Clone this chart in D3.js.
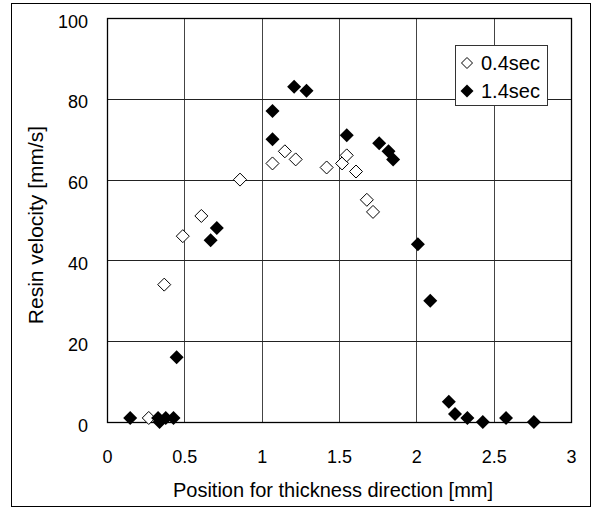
<!DOCTYPE html>
<html lang="en">
<head>
<meta charset="UTF-8">
<title>Resin velocity</title>
<style>
body { margin: 0; background: #fff; }
text { font-family: "Liberation Sans", Arial, sans-serif; font-size: 18px; fill: #000; }
</style>
</head>
<body>
<svg id="main" width="596" height="509"></svg>
<script src="https://cdn.jsdelivr.net/npm/d3@7/dist/d3.min.js"></script>
<script>
// 0.4 sec (open diamonds)
var x04 = [0.27, 0.37, 0.49, 0.61, 0.86, 1.07, 1.15, 1.22, 1.42, 1.52, 1.55, 1.61, 1.68, 1.72];
var y04 = [1, 34, 46, 51, 60, 64, 67, 65, 63, 64, 66, 62, 55, 52];
// 1.4 sec (filled diamonds)
var x14 = [0.15, 0.33, 0.34, 0.38, 0.43, 0.45, 0.67, 0.71, 1.07, 1.07, 1.21, 1.29, 1.55, 1.76, 1.82, 1.85, 2.01, 2.09, 2.21, 2.25, 2.33, 2.43, 2.58, 2.76];
var y14 = [1, 1, 0, 1, 1, 16, 45, 48, 77, 70, 83, 82, 71, 69, 67, 65, 44, 30, 5, 2, 1, 0, 1, 0];
var xTicks = [0, 0.5, 1, 1.5, 2, 2.5, 3];
var yTicks = [0, 20, 40, 60, 80, 100];
var seriesNames = ["0.4sec", "1.4sec"];

var svg = d3.select("#main");
var pL = 107, pR = 571, pT = 18, pB = 422;

var x = d3.scaleLinear().domain([0, 3]).range([pL, pR]);
var y = d3.scaleLinear().domain([0, 100]).range([pB, pT]);

// outer frame
svg.append("rect").attr("x", 11.5).attr("y", 3.5).attr("width", 579).attr("height", 503)
    .attr("fill", "none").attr("stroke", "#000").attr("stroke-width", 1);

// grid
svg.append("g").selectAll("line").data(xTicks.slice(1, -1)).enter().append("line")
    .attr("x1", function(d) { return Math.round(x(d)) + 0.5; })
    .attr("x2", function(d) { return Math.round(x(d)) + 0.5; })
    .attr("y1", pT).attr("y2", pB)
    .attr("stroke", "#444");
svg.append("g").selectAll("line").data(yTicks.slice(1, -1)).enter().append("line")
    .attr("y1", function(d) { return Math.round(y(d)) + 0.5; })
    .attr("y2", function(d) { return Math.round(y(d)) + 0.5; })
    .attr("x1", pL).attr("x2", pR)
    .attr("stroke", "#222");

// axes
var xAxis = d3.axisBottom(x).tickValues(xTicks).tickSize(0).tickPadding(28)
    .tickFormat(function(d) { return String(d); });
var gx = svg.append("g").attr("transform", "translate(0," + pB + ")").call(xAxis);
gx.select(".domain").remove();
gx.selectAll("text").style("font-size", "18px").style("font-family", "Liberation Sans, Arial, sans-serif");

var yAxis = d3.axisLeft(y).tickValues(yTicks).tickSize(0).tickPadding(19);
var gy = svg.append("g").attr("transform", "translate(" + pL + ",0)").call(yAxis);
gy.select(".domain").remove();
gy.selectAll("text").attr("dy", "0.5em")
    .style("font-size", "18px").style("font-family", "Liberation Sans, Arial, sans-serif");

// plot border
svg.append("rect").attr("x", pL + 0.5).attr("y", pT + 0.5)
    .attr("width", pR - pL).attr("height", pB - pT)
    .attr("fill", "none").attr("stroke", "#000").attr("stroke-width", 1.3);

// axis titles
svg.append("text").attr("x", 333).attr("y", 497)
    .attr("text-anchor", "middle").style("font-size", "20px")
    .text("Position for thickness direction [mm]");
svg.append("text").attr("transform", "translate(43,225) rotate(-90)")
    .attr("text-anchor", "middle").style("font-size", "21px")
    .text("Resin velocity [mm/s]");

function diamond(r) {
    return "M0," + (-r) + "L" + r + ",0L0," + r + "L" + (-r) + ",0Z";
}

var pts04 = x04.map(function(d, i) { return [d, y04[i]]; });
var pts14 = x14.map(function(d, i) { return [d, y14[i]]; });

svg.append("g").selectAll("path").data(pts04).enter().append("path")
    .attr("d", diamond(6.5))
    .attr("transform", function(d) { return "translate(" + x(d[0]) + "," + y(d[1]) + ")"; })
    .attr("fill", "#fff").attr("stroke", "#000").attr("stroke-width", 1);

svg.append("g").selectAll("path").data(pts14).enter().append("path")
    .attr("d", diamond(7))
    .attr("transform", function(d) { return "translate(" + x(d[0]) + "," + y(d[1]) + ")"; })
    .attr("fill", "#000");

// legend
var lg = svg.append("g");
lg.append("rect").attr("x", 455.5).attr("y", 45.5).attr("width", 92).attr("height", 60)
    .attr("fill", "#fff").attr("stroke", "#333");
lg.append("path").attr("d", diamond(5.5)).attr("transform", "translate(467,63)")
    .attr("fill", "#fff").attr("stroke", "#000");
lg.append("path").attr("d", diamond(6.5)).attr("transform", "translate(467,91)")
    .attr("fill", "#000");
lg.append("text").attr("x", 481).attr("y", 70).style("font-size", "20px").text(seriesNames[0]);
lg.append("text").attr("x", 481).attr("y", 98).style("font-size", "20px").text(seriesNames[1]);
</script>
</body>
</html>
